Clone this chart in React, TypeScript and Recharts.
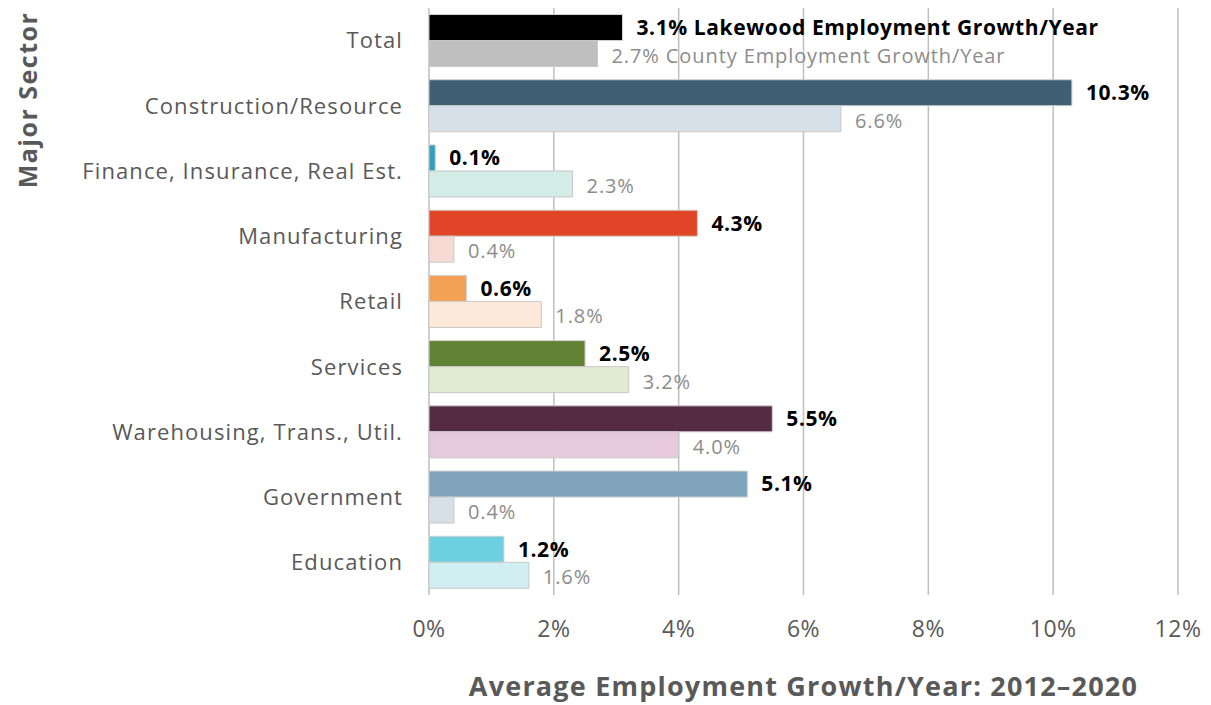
import { BarChart, Bar, XAxis, YAxis, CartesianGrid, Cell, LabelList, Label } from "recharts";

const sectors = [
  "Total",
  "Construction/Resource",
  "Finance, Insurance, Real Est.",
  "Manufacturing",
  "Retail",
  "Services",
  "Warehousing, Trans., Util.",
  "Government",
  "Education",
];

const lakewoodGrowth = [3.1, 10.3, 0.1, 4.3, 0.6, 2.5, 5.5, 5.1, 1.2];
const countyGrowth = [2.7, 6.6, 2.3, 0.4, 1.8, 3.2, 4.0, 0.4, 1.6];

const lakewoodColors = ["#000000", "#3f5f75", "#2f9fbe", "#e04527", "#f4a155", "#628233", "#552a45", "#7fa3bb", "#6dcfe0"];
const countyColors = ["#bfbfbf", "#d5e0e8", "#d3ede6", "#f9d9d3", "#fde9d9", "#e1ebd1", "#e6c9dc", "#d5e0e8", "#d1eef3"];

const xTicks = [0, 2, 4, 6, 8, 10, 12];

const chartData = sectors.map((sector, i) => ({
  sector,
  lakewood: lakewoodGrowth[i],
  county: countyGrowth[i],
}));

const FONT = "'Open Sans', sans-serif";

function LakewoodLabel(props: any) {
  const { x, y, width, height, value, index } = props;
  const text = index === 0 ? `${value.toFixed(1)}% Lakewood Employment Growth/Year` : `${value.toFixed(1)}%`;
  return (
    <text
      x={x + width + 14}
      y={y + height / 2}
      dy="0.35em"
      fontFamily={FONT}
      fontSize={21}
      fontWeight={700}
      letterSpacing={0.6}
      fill="#000000"
    >
      {text}
    </text>
  );
}

function CountyLabel(props: any) {
  const { x, y, width, height, value, index } = props;
  const text = index === 0 ? `${value.toFixed(1)}% County Employment Growth/Year` : `${value.toFixed(1)}%`;
  return (
    <text
      x={x + width + 14}
      y={y + height / 2 + 2}
      dy="0.35em"
      fontFamily={FONT}
      fontSize={20}
      letterSpacing={0.9}
      fill="#8c8c8c"
    >
      {text}
    </text>
  );
}

export default function App() {
  return (
    <div style={{ position: "absolute", left: 0, top: 0, width: 1211, height: 705, background: "#fff" }}>
      <BarChart
        width={1211}
        height={705}
        data={chartData}
        layout="vertical"
        margin={{ top: 8, right: 33, left: 0, bottom: 0 }}
        barCategoryGap="10%"
        barGap={0}
      >
        <CartesianGrid horizontal={false} stroke="#bfbfbf" strokeWidth={1.5} />
        <XAxis
          type="number"
          domain={[0, 12]}
          ticks={xTicks}
          tickFormatter={(v) => `${v}%`}
          axisLine={false}
          tickLine={false}
          tickSize={6}
          tickMargin={20}
          height={110}
          tick={{ fill: "#595959", fontSize: 23, fontFamily: FONT, letterSpacing: 0.5 }}
        >
          <Label
            value="Average Employment Growth/Year: 2012–2020"
            position="insideBottom"
            offset={9}
            style={{ fill: "#595959", fontSize: 27, fontWeight: 700, fontFamily: FONT, letterSpacing: 1.2 }}
          />
        </XAxis>
        <YAxis
          type="category"
          dataKey="sector"
          width={429}
          axisLine={false}
          tickLine={false}
          tickSize={6}
          tickMargin={20}
          tick={{ fill: "#595959", fontSize: 22, fontFamily: FONT, letterSpacing: 1.1 }}
        >
          <Label
            content={() => (
              <text
                transform="translate(28,100) rotate(-90)"
                textAnchor="middle"
                dy="0.35em"
                fill="#595959"
                fontSize={25}
                fontWeight={700}
                letterSpacing={1.5}
                fontFamily={FONT}
              >
                Major Sector
              </text>
            )}
          />
        </YAxis>
        <Bar dataKey="lakewood" isAnimationActive={false} stroke="#d0d0d0" strokeWidth={1}>
          {chartData.map((d, i) => (
            <Cell key={d.sector} fill={lakewoodColors[i]} />
          ))}
          <LabelList dataKey="lakewood" content={LakewoodLabel} />
        </Bar>
        <Bar dataKey="county" isAnimationActive={false} stroke="#c8c8c8" strokeWidth={1}>
          {chartData.map((d, i) => (
            <Cell key={d.sector} fill={countyColors[i]} />
          ))}
          <LabelList dataKey="county" content={CountyLabel} />
        </Bar>
      </BarChart>
    </div>
  );
}
